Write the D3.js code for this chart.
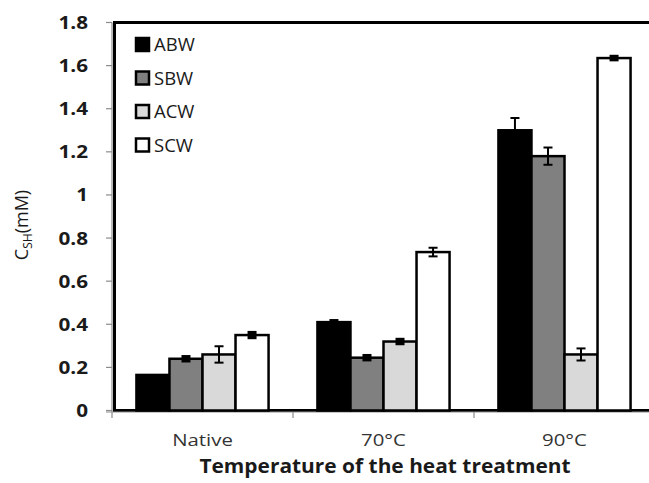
<!DOCTYPE html>
<html><head><meta charset="utf-8">
<script src="https://cdn.jsdelivr.net/npm/d3@7"></script>
<style>body{margin:0;background:#fff}svg{display:block}</style>
</head><body>
<svg id="c" width="649" height="483"></svg>
<script>
const categories = ["Native", "70°C", "90°C"];
const seriesNames = ["ABW", "SBW", "ACW", "SCW"];
const seriesColors = ["#000000", "#808080", "#d9d9d9", "#ffffff"];
const ABW = [0.165, 0.41, 1.30];
const SBW = [0.24, 0.245, 1.18];
const ACW = [0.26, 0.32, 0.26];
const SCW = [0.35, 0.735, 1.635];
const ABWerr = [0, 0.005, 0.057];
const SBWerr = [0.008, 0.008, 0.04];
const ACWerr = [0.038, 0.008, 0.028];
const SCWerr = [0.01, 0.02, 0.006];
const yTicks = ["0", "0.2", "0.4", "0.6", "0.8", "1", "1.2", "1.4", "1.6", "1.8"];

const values = [ABW, SBW, ACW, SCW];
const errors = [ABWerr, SBWerr, ACWerr, SCWerr];

const svg = d3.select("#c");
const font = "'Open Sans', sans-serif";
const x0 = d3.scaleBand().domain(categories).range([112, 655]).paddingInner(0.27).paddingOuter(0.135);
const x = d3.scaleBand().domain(seriesNames).range([0, x0.bandwidth()]);
const xc = d3.scaleBand().domain(categories).range([112, 655]);
const y = d3.scaleLinear().domain([0, 1.8]).range([410.5, 22.5]);

// frame (plot area)
svg.append("rect").attr("x", 114.5).attr("y", y(1.8)).attr("width", 560).attr("height", y(0) - y(1.8))
  .attr("fill", "none").attr("stroke", "#000").attr("stroke-width", 3);

// gray axes
const ga = svg.append("g").attr("stroke", "#8c8c8c").attr("stroke-width", 1.2);
ga.append("line").attr("x1", 112).attr("x2", 112).attr("y1", y(1.8)).attr("y2", 418);
ga.append("line").attr("x1", 106).attr("x2", 655).attr("y1", 412).attr("y2", 412);
yTicks.forEach(t => {
  ga.append("line").attr("x1", 106).attr("x2", 112).attr("y1", y(+t)).attr("y2", y(+t));
});
categories.forEach(c => {
  ga.append("line").attr("x1", xc(c) + xc.bandwidth()).attr("x2", xc(c) + xc.bandwidth()).attr("y1", 412).attr("y2", 418);
});

// y tick labels (slightly widened to match the reference's stretched type)
svg.append("g").selectAll("text").data(yTicks).join("text")
  .attr("transform", d => `translate(88,${y(+d)}) scale(1.15,1)`)
  .attr("dy", "0.36em").attr("text-anchor", "end")
  .attr("font-family", font).attr("font-weight", "bold").attr("font-size", 18).attr("fill", "#1a1a1a")
  .text(d => d);

// bars
seriesNames.forEach((s, i) => {
  const g = svg.append("g");
  g.selectAll("rect").data(categories).join("rect")
    .attr("x", c => x0(c) + x(s)).attr("y", (c, j) => y(values[i][j]))
    .attr("width", x.bandwidth()).attr("height", (c, j) => y(0) - y(values[i][j]))
    .attr("fill", seriesColors[i]).attr("stroke", "#000").attr("stroke-width", 2.5);
});
// error bars
seriesNames.forEach((s, i) => {
  const g = svg.append("g").attr("stroke", "#000").attr("stroke-width", 2);
  categories.forEach((c, j) => {
    const e = errors[i][j];
    if (e <= 0) return;
    const cx = x0(c) + x(s) + x.bandwidth() / 2;
    const v = values[i][j];
    const lo = y(v - e), hi = y(v + e);
    g.append("line").attr("x1", cx).attr("x2", cx).attr("y1", lo).attr("y2", hi);
    g.append("line").attr("x1", cx - 4.5).attr("x2", cx + 4.5).attr("y1", lo).attr("y2", lo).attr("stroke-width", e < 0.012 ? 4 : 2);
    g.append("line").attr("x1", cx - 4.5).attr("x2", cx + 4.5).attr("y1", hi).attr("y2", hi).attr("stroke-width", e < 0.012 ? 4 : 2);
  });
});

// x category labels
svg.append("g").selectAll("text").data(categories).join("text")
  .attr("transform", c => `translate(${xc(c) + xc.bandwidth() / 2},446) scale(1.2,1)`)
  .attr("text-anchor", "middle")
  .attr("font-family", font).attr("font-size", 17).attr("fill", "#333")
  .text(d => d);

// x title
svg.append("text").attr("transform", "translate(385,473) scale(1.1,1)").attr("text-anchor", "middle")
  .attr("font-family", font).attr("font-weight", "bold").attr("font-size", 19).attr("fill", "#1a1a1a")
  .text("Temperature of the heat treatment");

// y title
const yt = svg.append("text").attr("transform", "translate(28,225) rotate(-90)").attr("text-anchor", "middle")
  .attr("font-family", font).attr("font-size", 18).attr("fill", "#1a1a1a");
yt.append("tspan").text("C");
yt.append("tspan").attr("font-size", 12).attr("dy", 4).text("SH");
yt.append("tspan").attr("dy", -4).text("(mM)");

// legend
const leg = svg.append("g");
seriesNames.forEach((s, i) => {
  const cy = 44.5 + i * 33.5;
  leg.append("rect").attr("x", 136).attr("y", cy - 6.5).attr("width", 13).attr("height", 13)
    .attr("fill", seriesColors[i]).attr("stroke", "#000").attr("stroke-width", 2.5);
  leg.append("text").attr("x", 154).attr("y", cy).attr("dy", "0.36em")
    .attr("font-family", font).attr("font-size", 18.5).attr("fill", "#1a1a1a").text(s);
});
</script>
</body></html>
